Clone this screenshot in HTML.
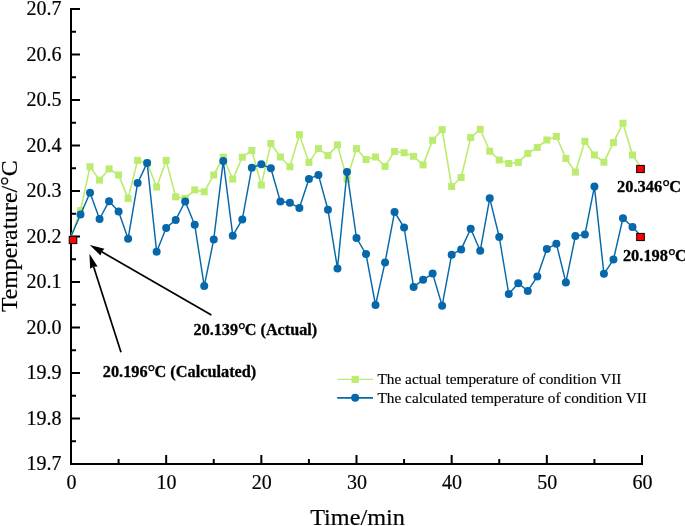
<!DOCTYPE html><html><head><meta charset="utf-8"><style>
html,body{margin:0;padding:0;background:#fff;width:685px;height:526px;overflow:hidden}
svg{position:absolute;left:0;top:0;display:block;will-change:transform}
text{font-family:"Liberation Serif",serif;fill:#000}
</style></head><body>
<svg width="685" height="526" viewBox="0 0 685 526">
<g stroke="#000" stroke-width="2" fill="none" stroke-linecap="butt">
<path d="M71 8 V465 M70 464 H643"/>
<path d="M72 9.00 H80"/>
<path d="M72 54.50 H80"/>
<path d="M72 100.00 H80"/>
<path d="M72 145.50 H80"/>
<path d="M72 191.00 H80"/>
<path d="M72 236.50 H80"/>
<path d="M72 282.00 H80"/>
<path d="M72 327.50 H80"/>
<path d="M72 373.00 H80"/>
<path d="M72 418.50 H80"/>
<path d="M72 464.00 H80"/>
<path d="M72 31.75 H76"/>
<path d="M72 77.25 H76"/>
<path d="M72 122.75 H76"/>
<path d="M72 168.25 H76"/>
<path d="M72 213.75 H76"/>
<path d="M72 259.25 H76"/>
<path d="M72 304.75 H76"/>
<path d="M72 350.25 H76"/>
<path d="M72 395.75 H76"/>
<path d="M72 441.25 H76"/>
<path d="M71.00 463 V455"/>
<path d="M166.17 463 V455"/>
<path d="M261.33 463 V455"/>
<path d="M356.50 463 V455"/>
<path d="M451.67 463 V455"/>
<path d="M546.83 463 V455"/>
<path d="M642.00 463 V455"/>
<path d="M118.58 463 V459"/>
<path d="M213.75 463 V459"/>
<path d="M308.92 463 V459"/>
<path d="M404.08 463 V459"/>
<path d="M499.25 463 V459"/>
<path d="M594.42 463 V459"/>
</g>
<g font-size="20" text-anchor="end" stroke="#000" stroke-width="0.2">
<text x="61.4" y="15.00">20.7</text>
<text x="61.4" y="60.50">20.6</text>
<text x="61.4" y="106.00">20.5</text>
<text x="61.4" y="151.50">20.4</text>
<text x="61.4" y="197.00">20.3</text>
<text x="61.4" y="242.50">20.2</text>
<text x="61.4" y="288.00">20.1</text>
<text x="61.4" y="333.50">20.0</text>
<text x="61.4" y="379.00">19.9</text>
<text x="61.4" y="424.50">19.8</text>
<text x="61.4" y="470.00">19.7</text>
</g>
<g font-size="20" text-anchor="middle" stroke="#000" stroke-width="0.2">
<text x="71.40" y="489">0</text>
<text x="166.57" y="489">10</text>
<text x="261.73" y="489">20</text>
<text x="356.90" y="489">30</text>
<text x="452.07" y="489">40</text>
<text x="547.23" y="489">50</text>
<text x="642.40" y="489">60</text>
</g>
<text x="310.2" y="525" font-size="24" textLength="94.6" stroke="#000" stroke-width="0.2" lengthAdjust="spacingAndGlyphs">Time/min</text>
<text transform="translate(17.0,312.1) rotate(-90)" font-size="24" textLength="151.6" stroke="#000" stroke-width="0.2" lengthAdjust="spacingAndGlyphs">Temperature/°C</text>
<polyline points="71.00,236.50 80.52,210.50 90.03,166.70 99.55,180.10 109.07,168.90 118.58,175.00 128.10,198.40 137.62,160.40 147.13,163.00 156.65,187.00 166.17,160.40 175.68,196.90 185.20,198.40 194.72,189.90 204.23,191.80 213.75,175.00 223.27,157.20 232.78,179.10 242.30,157.20 251.82,150.50 261.33,185.10 270.85,143.50 280.37,157.00 289.88,166.80 299.40,134.70 308.92,162.40 318.43,148.60 327.95,155.60 337.47,144.90 346.98,179.20 356.50,148.60 366.02,159.50 375.53,157.00 385.05,166.40 394.57,151.50 404.08,152.70 413.60,156.30 423.12,164.90 432.63,140.30 442.15,129.60 451.67,186.50 461.18,177.50 470.70,137.60 480.22,129.30 489.73,151.20 499.25,160.00 508.77,163.50 518.28,162.40 527.80,153.40 537.32,147.40 546.83,140.00 556.35,136.50 565.87,158.50 575.38,172.10 584.90,141.30 594.42,155.00 603.93,162.20 613.45,142.60 622.97,123.20 632.48,155.00 642.00,169.00" fill="none" stroke="#bbec6f" stroke-width="1.6" stroke-linejoin="round"/>
<g fill="#bbec6f">
<rect x="77.02" y="207.00" width="7.0" height="7.0"/>
<rect x="86.53" y="163.20" width="7.0" height="7.0"/>
<rect x="96.05" y="176.60" width="7.0" height="7.0"/>
<rect x="105.57" y="165.40" width="7.0" height="7.0"/>
<rect x="115.08" y="171.50" width="7.0" height="7.0"/>
<rect x="124.60" y="194.90" width="7.0" height="7.0"/>
<rect x="134.12" y="156.90" width="7.0" height="7.0"/>
<rect x="143.63" y="159.50" width="7.0" height="7.0"/>
<rect x="153.15" y="183.50" width="7.0" height="7.0"/>
<rect x="162.67" y="156.90" width="7.0" height="7.0"/>
<rect x="172.18" y="193.40" width="7.0" height="7.0"/>
<rect x="181.70" y="194.90" width="7.0" height="7.0"/>
<rect x="191.22" y="186.40" width="7.0" height="7.0"/>
<rect x="200.73" y="188.30" width="7.0" height="7.0"/>
<rect x="210.25" y="171.50" width="7.0" height="7.0"/>
<rect x="219.77" y="153.70" width="7.0" height="7.0"/>
<rect x="229.28" y="175.60" width="7.0" height="7.0"/>
<rect x="238.80" y="153.70" width="7.0" height="7.0"/>
<rect x="248.32" y="147.00" width="7.0" height="7.0"/>
<rect x="257.83" y="181.60" width="7.0" height="7.0"/>
<rect x="267.35" y="140.00" width="7.0" height="7.0"/>
<rect x="276.87" y="153.50" width="7.0" height="7.0"/>
<rect x="286.38" y="163.30" width="7.0" height="7.0"/>
<rect x="295.90" y="131.20" width="7.0" height="7.0"/>
<rect x="305.42" y="158.90" width="7.0" height="7.0"/>
<rect x="314.93" y="145.10" width="7.0" height="7.0"/>
<rect x="324.45" y="152.10" width="7.0" height="7.0"/>
<rect x="333.97" y="141.40" width="7.0" height="7.0"/>
<rect x="343.48" y="175.70" width="7.0" height="7.0"/>
<rect x="353.00" y="145.10" width="7.0" height="7.0"/>
<rect x="362.52" y="156.00" width="7.0" height="7.0"/>
<rect x="372.03" y="153.50" width="7.0" height="7.0"/>
<rect x="381.55" y="162.90" width="7.0" height="7.0"/>
<rect x="391.07" y="148.00" width="7.0" height="7.0"/>
<rect x="400.58" y="149.20" width="7.0" height="7.0"/>
<rect x="410.10" y="152.80" width="7.0" height="7.0"/>
<rect x="419.62" y="161.40" width="7.0" height="7.0"/>
<rect x="429.13" y="136.80" width="7.0" height="7.0"/>
<rect x="438.65" y="126.10" width="7.0" height="7.0"/>
<rect x="448.17" y="183.00" width="7.0" height="7.0"/>
<rect x="457.68" y="174.00" width="7.0" height="7.0"/>
<rect x="467.20" y="134.10" width="7.0" height="7.0"/>
<rect x="476.72" y="125.80" width="7.0" height="7.0"/>
<rect x="486.23" y="147.70" width="7.0" height="7.0"/>
<rect x="495.75" y="156.50" width="7.0" height="7.0"/>
<rect x="505.27" y="160.00" width="7.0" height="7.0"/>
<rect x="514.78" y="158.90" width="7.0" height="7.0"/>
<rect x="524.30" y="149.90" width="7.0" height="7.0"/>
<rect x="533.82" y="143.90" width="7.0" height="7.0"/>
<rect x="543.33" y="136.50" width="7.0" height="7.0"/>
<rect x="552.85" y="133.00" width="7.0" height="7.0"/>
<rect x="562.37" y="155.00" width="7.0" height="7.0"/>
<rect x="571.88" y="168.60" width="7.0" height="7.0"/>
<rect x="581.40" y="137.80" width="7.0" height="7.0"/>
<rect x="590.92" y="151.50" width="7.0" height="7.0"/>
<rect x="600.43" y="158.70" width="7.0" height="7.0"/>
<rect x="609.95" y="139.10" width="7.0" height="7.0"/>
<rect x="619.47" y="119.70" width="7.0" height="7.0"/>
<rect x="628.98" y="151.50" width="7.0" height="7.0"/>
</g>
<polyline points="71.00,236.50 80.52,214.50 90.03,192.80 99.55,219.00 109.07,201.20 118.58,211.50 128.10,238.70 137.62,183.10 147.13,162.90 156.65,251.80 166.17,227.90 175.68,220.00 185.20,201.40 194.72,224.70 204.23,286.10 213.75,239.40 223.27,160.90 232.78,235.70 242.30,219.40 251.82,167.70 261.33,164.30 270.85,168.30 280.37,201.50 289.88,202.80 299.40,207.90 308.92,178.90 318.43,174.90 327.95,209.80 337.47,268.40 346.98,171.90 356.50,238.00 366.02,254.10 375.53,305.00 385.05,262.40 394.57,212.10 404.08,227.50 413.60,286.90 423.12,279.80 432.63,273.60 442.15,305.70 451.67,254.70 461.18,249.40 470.70,228.70 480.22,250.80 489.73,198.30 499.25,237.00 508.77,294.00 518.28,283.30 527.80,290.90 537.32,276.60 546.83,249.10 556.35,243.70 565.87,282.40 575.38,236.00 584.90,234.60 594.42,186.60 603.93,273.80 613.45,259.60 622.97,218.20 632.48,227.00 642.00,237.00" fill="none" stroke="#0668aa" stroke-width="1.45" stroke-linejoin="round"/>
<g fill="#0668aa">
<circle cx="80.52" cy="214.50" r="4.0"/>
<circle cx="90.03" cy="192.80" r="4.0"/>
<circle cx="99.55" cy="219.00" r="4.0"/>
<circle cx="109.07" cy="201.20" r="4.0"/>
<circle cx="118.58" cy="211.50" r="4.0"/>
<circle cx="128.10" cy="238.70" r="4.0"/>
<circle cx="137.62" cy="183.10" r="4.0"/>
<circle cx="147.13" cy="162.90" r="4.0"/>
<circle cx="156.65" cy="251.80" r="4.0"/>
<circle cx="166.17" cy="227.90" r="4.0"/>
<circle cx="175.68" cy="220.00" r="4.0"/>
<circle cx="185.20" cy="201.40" r="4.0"/>
<circle cx="194.72" cy="224.70" r="4.0"/>
<circle cx="204.23" cy="286.10" r="4.0"/>
<circle cx="213.75" cy="239.40" r="4.0"/>
<circle cx="223.27" cy="160.90" r="4.0"/>
<circle cx="232.78" cy="235.70" r="4.0"/>
<circle cx="242.30" cy="219.40" r="4.0"/>
<circle cx="251.82" cy="167.70" r="4.0"/>
<circle cx="261.33" cy="164.30" r="4.0"/>
<circle cx="270.85" cy="168.30" r="4.0"/>
<circle cx="280.37" cy="201.50" r="4.0"/>
<circle cx="289.88" cy="202.80" r="4.0"/>
<circle cx="299.40" cy="207.90" r="4.0"/>
<circle cx="308.92" cy="178.90" r="4.0"/>
<circle cx="318.43" cy="174.90" r="4.0"/>
<circle cx="327.95" cy="209.80" r="4.0"/>
<circle cx="337.47" cy="268.40" r="4.0"/>
<circle cx="346.98" cy="171.90" r="4.0"/>
<circle cx="356.50" cy="238.00" r="4.0"/>
<circle cx="366.02" cy="254.10" r="4.0"/>
<circle cx="375.53" cy="305.00" r="4.0"/>
<circle cx="385.05" cy="262.40" r="4.0"/>
<circle cx="394.57" cy="212.10" r="4.0"/>
<circle cx="404.08" cy="227.50" r="4.0"/>
<circle cx="413.60" cy="286.90" r="4.0"/>
<circle cx="423.12" cy="279.80" r="4.0"/>
<circle cx="432.63" cy="273.60" r="4.0"/>
<circle cx="442.15" cy="305.70" r="4.0"/>
<circle cx="451.67" cy="254.70" r="4.0"/>
<circle cx="461.18" cy="249.40" r="4.0"/>
<circle cx="470.70" cy="228.70" r="4.0"/>
<circle cx="480.22" cy="250.80" r="4.0"/>
<circle cx="489.73" cy="198.30" r="4.0"/>
<circle cx="499.25" cy="237.00" r="4.0"/>
<circle cx="508.77" cy="294.00" r="4.0"/>
<circle cx="518.28" cy="283.30" r="4.0"/>
<circle cx="527.80" cy="290.90" r="4.0"/>
<circle cx="537.32" cy="276.60" r="4.0"/>
<circle cx="546.83" cy="249.10" r="4.0"/>
<circle cx="556.35" cy="243.70" r="4.0"/>
<circle cx="565.87" cy="282.40" r="4.0"/>
<circle cx="575.38" cy="236.00" r="4.0"/>
<circle cx="584.90" cy="234.60" r="4.0"/>
<circle cx="594.42" cy="186.60" r="4.0"/>
<circle cx="603.93" cy="273.80" r="4.0"/>
<circle cx="613.45" cy="259.60" r="4.0"/>
<circle cx="622.97" cy="218.20" r="4.0"/>
<circle cx="632.48" cy="227.00" r="4.0"/>
</g>
<rect x="69.20" y="236.40" width="7.6" height="7.2" fill="#ff0000" stroke="#000" stroke-width="1"/>
<rect x="636.70" y="165.40" width="7.6" height="7.2" fill="#ff0000" stroke="#000" stroke-width="1"/>
<rect x="636.70" y="233.40" width="7.6" height="7.2" fill="#ff0000" stroke="#000" stroke-width="1"/>
<path d="M211.40 315.00 L101.76 251.84" stroke="#000" stroke-width="1.7" fill="none"/><path d="M89.80 244.95 L104.40 248.86 L101.76 251.84 L100.50 255.62 Z" fill="#000"/>
<path d="M121.00 352.20 L93.62 266.84" stroke="#000" stroke-width="1.7" fill="none"/><path d="M89.40 253.70 L97.57 266.41 L93.62 266.84 L90.15 268.79 Z" fill="#000"/>
<g font-size="16" font-weight="bold" stroke="#000" stroke-width="0.3">
<text x="617.1" y="192.1" textLength="63.9" lengthAdjust="spacingAndGlyphs">20.346<tspan font-size="19" dy="0.8">°</tspan><tspan dy="-0.8" dx="-0.8">C</tspan></text>
<text x="622.9" y="260.7" textLength="63.9" lengthAdjust="spacingAndGlyphs">20.198<tspan font-size="19" dy="0.8">°</tspan><tspan dy="-0.8" dx="-0.8">C</tspan></text>
<text x="193.6" y="335.2" textLength="123.5" lengthAdjust="spacingAndGlyphs">20.139<tspan font-size="19" dy="0.8">°</tspan><tspan dy="-0.8" dx="-0.8">C</tspan> (Actual)</text>
<text x="102.8" y="376.9" textLength="153.5" lengthAdjust="spacingAndGlyphs">20.196<tspan font-size="19" dy="0.8">°</tspan><tspan dy="-0.8" dx="-0.8">C</tspan> (Calculated)</text>
</g>
<path d="M337.2 379.35 H373" stroke="#bbec6f" stroke-width="1.4"/>
<rect x="351.59999999999997" y="375.85" width="7.2" height="7" fill="#bbec6f"/>
<path d="M337.2 397.85 H373" stroke="#0668aa" stroke-width="1.6"/>
<circle cx="355.15" cy="397.85" r="4" fill="#0668aa"/>
<g font-size="15.3" stroke="#000" stroke-width="0.15">
<text x="377.5" y="384">The actual temperature of condition VII</text>
<text x="377.5" y="402.8">The calculated temperature of condition VII</text>
</g>
</svg></body></html>
